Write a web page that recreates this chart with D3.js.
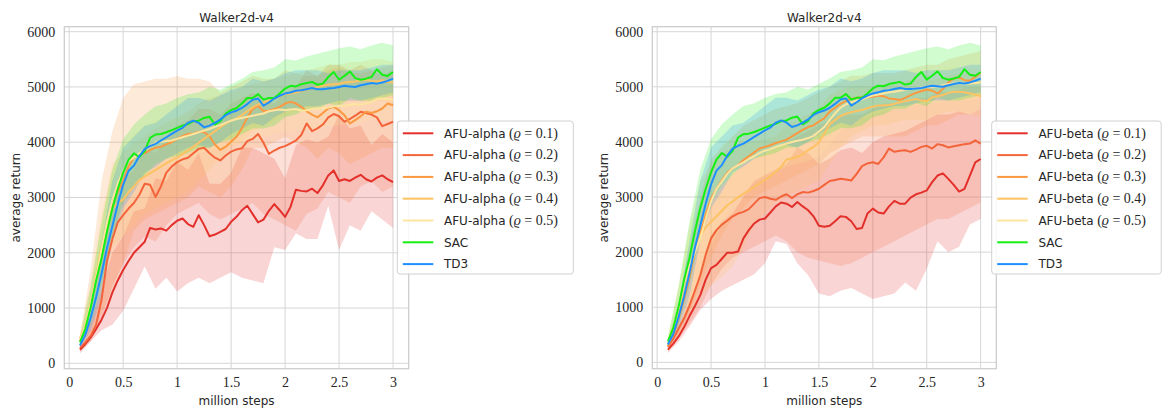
<!DOCTYPE html>
<html><head><meta charset="utf-8">
<script src="https://cdn.jsdelivr.net/npm/d3@7"></script>
<style>body{margin:0;background:#fff} svg{display:block}</style>
</head><body><svg id="c" width="1162" height="414"></svg>
<script>
// ---------------- data ----------------
const steps = [0.1,0.15,0.2,0.25,0.3,0.35,0.4,0.45,0.5,
 0.55,0.6,0.65,0.7,0.75,0.8,0.85,0.9,0.95,1.0,
 1.05,1.1,1.15,1.2,1.25,1.3,1.35,1.4,1.45,1.5,
 1.55,1.6,1.65,1.7,1.75,1.8,1.85,1.9,1.95,2.0,
 2.05,2.1,2.15,2.2,2.25,2.3,2.35,2.4,2.45,2.5,
 2.55,2.6,2.65,2.7,2.75,2.8,2.85,2.9,2.95,3.0];
const bandSteps = [0.1,0.2,0.3,0.4,0.5,0.6,0.7,0.8,0.9,1.0,1.1,1.2,1.3,1.4,1.5,1.6,1.7,1.8,1.9,2.0,2.1,2.2,2.3,2.4,2.5,2.6,2.7,2.8,2.9,3.0];
const xTicks = [0,0.5,1,1.5,2,2.5,3];
const xTickLabels = ["0","0.5","1","1.5","2","2.5","3"];
const yTicks = [0,1000,2000,3000,4000,5000,6000];
const yTickLabels = ["0","1000","2000","3000","4000","5000","6000"];
const rhoLabels = ["0.1","0.2","0.3","0.4","0.5"];

// shared baselines
const sac = [380,630,1020,1500,1900,2380,2800,3150,3450,
 3680,3800,3730,3840,4080,4140,4150,4180,4220,4260,
 4300,4330,4380,4390,4440,4460,4320,4380,4520,4580,
 4620,4700,4800,4800,4870,4770,4800,4800,4880,4970,
 5020,5010,5050,5070,5090,5040,5060,5180,5270,5130,
 5200,5280,5160,5130,5150,5180,5320,5220,5200,5270];
const td3 = [325,520,830,1200,1620,2080,2480,2880,3230,
 3480,3580,3750,3880,3930,3970,4030,4090,4150,4210,
 4260,4350,4390,4350,4270,4300,4350,4410,4490,4540,
 4570,4620,4690,4770,4790,4660,4720,4790,4840,4880,
 4900,4930,4940,4960,4980,4960,4960,4970,4980,5000,
 5020,5010,5000,5030,5050,5070,5060,5080,5110,5150];
const sacLo = [300,700,1400,2300,2900,3200,3400,3600,3700,3750,3800,3900,3900,4000,4050,4150,4250,4250,4300,4450,4500,4600,4600,4700,4650,4800,4750,4750,4800,4850];
const sacHi = [460,1400,2550,3500,4050,4320,4500,4650,4700,4800,4870,4900,5000,4950,5050,5150,5270,5300,5350,5500,5480,5550,5600,5650,5700,5730,5680,5750,5800,5750];
const td3Lo = [260,600,1200,2200,2800,3100,3450,3550,3700,3800,3900,3950,3900,4000,4150,4250,4350,4300,4450,4550,4600,4650,4650,4700,4750,4750,4750,4800,4850,4900];
const td3Hi = [380,1100,2200,3300,3900,4100,4300,4350,4500,4650,4800,4800,4750,4850,4950,5000,5150,5100,5150,5250,5300,5300,5300,5250,5300,5300,5300,5350,5400,5400];

// AFU-alpha (left panel)
const alpha01 = [245,350,470,620,790,1000,1280,1500,1690,
 1850,2000,2100,2200,2450,2420,2440,2400,2500,2580,
 2620,2520,2470,2680,2500,2300,2330,2380,2430,2560,
 2650,2770,2850,2700,2550,2600,2760,2880,2770,2650,
 2830,3140,3120,3110,3160,3080,3220,3400,3490,3300,
 3330,3300,3360,3410,3330,3290,3360,3400,3330,3280];
const alpha02 = [280,380,500,700,1150,1850,2250,2550,2680,
 2800,2900,3050,3250,3230,3010,3200,3450,3560,3640,
 3690,3720,3800,3880,3900,3800,3720,3670,3760,3830,
 3870,3890,4020,4060,4150,3990,3790,3850,3900,3930,
 3980,4030,4130,4340,4200,4250,4320,4450,4510,4470,
 4370,4420,4480,4550,4530,4500,4450,4290,4330,4370];
const alpha03 = [400,650,1050,1550,2050,2500,2850,3100,3300,
 3560,3720,3790,3800,3860,3900,3920,3960,4000,4060,
 4110,4150,4160,4190,4180,4110,3960,3860,3920,4010,
 4100,4250,4450,4600,4660,4560,4570,4600,4640,4700,
 4730,4700,4640,4560,4500,4450,4530,4610,4640,4580,
 4490,4340,4400,4470,4550,4530,4560,4610,4700,4670];
const alpha04 = [450,700,1100,1600,2100,2500,2800,2900,2960,
 3100,3200,3320,3380,3440,3500,3560,3620,3670,3720,
 3790,3850,3920,3990,4060,4130,4200,4270,4340,4390,
 4430,4490,4560,4630,4680,4720,4750,4790,4830,4870,
 4880,4900,4930,4950,4980,5000,5020,5040,5050,5060,
 5080,5090,5100,5120,5130,5110,5100,5120,5090,5080];
const alpha05 = [420,680,1080,1550,2050,2550,2950,3250,3480,
 3660,3720,3800,3870,3920,3990,4010,4020,4030,4060,
 4090,4120,4150,4180,4210,4240,4280,4310,4350,4390,
 4420,4440,4460,4480,4500,4520,4560,4580,4590,4580,
 4590,4600,4570,4580,4600,4610,4620,4630,4650,4660,
 4660,4680,4690,4680,4700,4730,4780,4790,4780,4770];
const alpha01Lo = [180,400,600,700,950,1350,1750,1350,1550,1300,1450,1550,1450,1550,1650,1550,1500,1450,2100,2050,2350,2250,2250,2850,2050,2500,2400,2750,2600,2450];
const alpha01Hi = [320,750,1350,2000,2300,2750,2800,3350,3300,3650,3500,3800,3250,3250,3450,3900,3900,3800,3700,3350,3950,4050,4000,4100,4500,4250,4300,3950,4150,4000];
const alpha02Lo = [220,400,800,1400,1800,2100,2300,2200,2500,2700,2800,2900,2700,2600,2700,2800,2900,2700,2600,2500,2400,2700,2800,3100,3000,2900,3200,3300,3100,3200];
const alpha02Hi = [350,800,1900,2900,3300,3500,3900,3800,4100,4300,4400,4600,4600,4500,4700,4800,4900,4800,4700,4900,5000,5300,5200,5400,5400,5300,5400,5300,5200,5300];
const alpha03Lo = [250,550,900,1300,1800,2400,2600,2700,2800,2900,3000,3200,3100,3000,3200,3500,3900,3900,4000,4100,4000,3900,3700,3900,3800,3600,3700,3800,3900,3900];
const alpha03Hi = [500,1700,3300,4200,4800,5050,5100,5150,5150,5200,5150,5150,5100,4900,5000,5100,5200,5150,5150,5300,5250,5200,5200,5300,5350,5250,5250,5300,5350,5400];
const alpha04Lo = [350,800,1500,2100,2300,2500,2700,2800,2900,3000,3100,3300,3500,3700,3900,4000,4200,4300,4400,4500,4550,4600,4650,4700,4700,4750,4750,4750,4750,4700];
const alpha04Hi = [550,1450,2700,3600,3800,4000,4100,4250,4350,4450,4550,4700,4800,4850,4900,5000,5050,5100,5150,5200,5250,5300,5350,5400,5400,5450,5450,5500,5500,5450];
const alpha05Lo = [350,850,1700,2500,3000,3200,3400,3500,3600,3650,3700,3800,3850,3900,3950,4000,4050,4100,4150,4200,4200,4250,4250,4300,4300,4350,4350,4400,4400,4400];
const alpha05Hi = [500,1350,2450,3400,3900,4150,4300,4400,4450,4450,4500,4550,4600,4700,4800,4850,4900,4950,5000,5000,5000,5000,5000,5000,5050,5050,5050,5100,5150,5150];

// AFU-beta (right panel)
const beta01 = [230,340,470,640,840,1020,1220,1500,1710,
 1770,1880,1990,1990,2010,2250,2400,2520,2590,2610,
 2720,2830,2900,2880,2820,2910,2830,2760,2650,2480,
 2460,2480,2560,2650,2640,2560,2420,2440,2700,2790,
 2720,2700,2830,2930,2880,2880,2990,3050,3080,3120,
 3270,3390,3430,3330,3220,3100,3150,3390,3630,3690];
const beta02 = [280,430,620,800,1030,1300,1580,1950,2250,
 2400,2500,2570,2650,2700,2730,2780,2880,2980,3000,
 2970,2950,3010,3050,2980,3050,3090,3080,3110,3150,
 3220,3290,3310,3330,3320,3300,3420,3560,3610,3630,
 3600,3720,3880,3820,3840,3850,3820,3860,3910,3930,
 3880,3960,3940,3900,3920,3940,3960,3970,4030,3970];
const beta03 = [300,500,800,1150,1550,2000,2350,2680,2970,
 3150,3300,3440,3520,3580,3670,3740,3810,3880,3910,
 3940,3980,4010,4040,4100,4160,4220,4270,4300,4370,
 4430,4550,4620,4690,4740,4780,4800,4810,4810,4820,
 4840,4830,4790,4780,4760,4800,4850,4890,4920,4950,
 4930,4880,4960,5080,5150,5170,5120,5110,5180,5260];
const beta04 = [330,580,900,1250,1650,2000,2300,2450,2550,
 2650,2750,2850,2920,3000,3060,3120,3180,3250,3310,
 3380,3460,3550,3680,3700,3730,3780,3850,3910,3990,
 4150,4320,4400,4470,4510,4540,4560,4580,4610,4640,
 4660,4660,4670,4690,4720,4740,4760,4780,4750,4740,
 4810,4830,4850,4890,4910,4910,4900,4880,4860,4830];
const beta05 = [380,650,1000,1450,1750,2000,2250,2600,2920,
 3150,3280,3420,3520,3580,3630,3690,3740,3800,3840,
 3870,3910,3940,3970,4000,4020,4040,4070,4110,4190,
 4270,4400,4520,4620,4680,4720,4750,4770,4810,4840,
 4860,4880,4900,4910,4930,4950,4960,4980,4990,5000,
 5000,5010,5030,5050,5060,5060,5060,5060,5070,5080];
const beta01Lo = [170,380,650,950,1150,1300,1400,1500,1600,1800,2200,2150,1800,1580,1250,1200,1300,1350,1250,1150,1200,1250,1450,1300,1700,2200,2000,2100,2500,2600];
const beta01Hi = [300,600,1100,1600,2300,2550,2700,3000,3300,3400,3500,3600,3900,3800,3600,3700,3850,3900,3800,4000,4100,4150,4200,4300,4400,4500,4500,4550,4500,4600];
const beta02Lo = [200,450,700,1000,1400,1700,1900,2000,2100,2200,2300,2200,2000,1900,1850,1800,1750,1800,1900,2000,2100,2200,2300,2400,2500,2600,2600,2700,2800,2900];
const beta02Hi = [380,800,1500,2300,2900,3200,3400,3600,3700,3800,3900,4000,4100,4200,4300,4400,4500,4500,4500,4600,4700,4700,4750,4800,4800,4900,4900,4950,5000,5000];
const beta03Lo = [220,500,900,1400,1900,2300,2600,2800,3000,3100,3200,3300,3400,3500,3600,3800,3900,4000,4100,4100,4100,4100,4100,4200,4300,4300,4400,4500,4500,4600];
const beta03Hi = [400,1100,2100,3000,3700,3900,4100,4300,4400,4500,4600,4650,4700,4800,4900,5000,5100,5200,5200,5250,5250,5250,5300,5350,5400,5400,5500,5550,5600,5650];
const beta04Lo = [250,550,900,1200,1400,1550,1750,2100,2500,2700,2900,3000,3100,3200,3300,3600,3900,4100,4200,4300,4300,4350,4400,4400,4400,4500,4550,4550,4500,4450];
const beta04Hi = [450,1400,2500,3300,3600,3800,3900,4000,4000,4050,4100,4300,4400,4500,4600,4850,4950,5000,5000,5000,5050,5050,5100,5150,5100,5150,5200,5250,5250,5200];
const beta05Lo = [300,700,1100,1600,2100,2500,2900,3100,3250,3350,3450,3550,3600,3650,3750,3950,4200,4350,4450,4500,4550,4600,4600,4650,4700,4700,4750,4750,4750,4800];
const beta05Hi = [480,1350,2400,2900,3600,3950,4100,4200,4250,4300,4350,4400,4450,4500,4650,4850,5000,5050,5100,5150,5200,5200,5250,5300,5300,5300,5350,5350,5350,5350];

// ---------------- drawing ----------------
const svg = d3.select('#c');
const SANS = "'DejaVu Sans', sans-serif";
const SERIF = "'Liberation Serif', 'DejaVu Serif', serif";
const TXT = '#262626';
const palette = ['#e3302b','#f4643a','#fb9840','#fdc262','#fde5a0','#14f014','#1e8fff'];

function drawPanel(p) {
  const x = d3.scaleLinear().domain([-0.045, 3.145]).range([p.x0, p.x1]);
  const y = d3.scaleLinear().domain(p.yDomain).range([p.y1, p.y0]);
  const g = svg.append('g');
  const clipId = 'clip' + p.id;
  g.append('clipPath').attr('id', clipId).append('rect')
    .attr('x', p.x0).attr('y', p.y0).attr('width', p.x1 - p.x0).attr('height', p.y1 - p.y0);

  // grid
  g.append('g').selectAll('line').data(xTicks).join('line')
    .attr('x1', d => x(d)).attr('x2', d => x(d)).attr('y1', p.y0).attr('y2', p.y1)
    .attr('stroke', '#d6d6d6').attr('stroke-width', 1);
  g.append('g').selectAll('line').data(yTicks).join('line')
    .attr('y1', d => y(d)).attr('y2', d => y(d)).attr('x1', p.x0).attr('x2', p.x1)
    .attr('stroke', '#d6d6d6').attr('stroke-width', 1);

  const plot = g.append('g').attr('clip-path', `url(#${clipId})`);
  const area = d3.area().x((d, i) => x(bandSteps[i])).y0(d => y(d[0])).y1(d => y(d[1]));
  const line = d3.line().x((d, i) => x(steps[i])).y(d => y(d));

  p.series.forEach((s, k) => {
    const bd = s.lo.map((v, i) => [v, s.hi[i]]);
    plot.append('path').datum(bd).attr('d', area)
      .attr('fill', palette[k]).attr('fill-opacity', 0.2).attr('stroke', 'none');
  });
  p.series.forEach((s, k) => {
    plot.append('path').datum(s.mean).attr('d', line)
      .attr('fill', 'none').attr('stroke', palette[k]).attr('stroke-width', 2)
      .attr('stroke-linejoin', 'round');
  });

  // frame
  g.append('rect').attr('x', p.x0).attr('y', p.y0).attr('width', p.x1 - p.x0).attr('height', p.y1 - p.y0)
    .attr('fill', 'none').attr('stroke', '#cccccc').attr('stroke-width', 1.25);

  // axes
  const xa = g.append('g').attr('transform', `translate(0,${p.y1})`)
    .call(d3.axisBottom(x).tickValues(xTicks).tickSize(0).tickPadding(8)
      .tickFormat((d, i) => xTickLabels[i]));
  const ya = g.append('g').attr('transform', `translate(${p.x0},0)`)
    .call(d3.axisLeft(y).tickValues(yTicks).tickSize(0).tickPadding(9)
      .tickFormat((d, i) => yTickLabels[i]));
  [xa, ya].forEach(a => {
    a.select('.domain').remove();
    a.selectAll('text').attr('font-family', SERIF).attr('font-size', 14).attr('fill', TXT);
  });

  // title & labels
  const cx = (p.x0 + p.x1) / 2;
  g.append('text').attr('x', cx).attr('y', 21.5).attr('text-anchor', 'middle')
    .attr('font-family', SANS).attr('font-size', 12).attr('fill', TXT).text('Walker2d-v4');
  g.append('text').attr('x', cx).attr('y', 404.5).attr('text-anchor', 'middle')
    .attr('font-family', SANS).attr('font-size', 12).attr('fill', TXT).text('million steps');
  g.append('text').attr('transform', `translate(${p.ylabX},${(p.y0 + p.y1) / 2}) rotate(-90)`)
    .attr('text-anchor', 'middle')
    .attr('font-family', SANS).attr('font-size', 12).attr('fill', TXT).text('average return');

  // legend
  const lg = g.append('g');
  lg.append('rect').attr('x', p.legX).attr('y', 121).attr('width', p.legW).attr('height', 153)
    .attr('rx', 3).attr('fill', '#ffffff').attr('fill-opacity', 0.85)
    .attr('stroke', '#d0d0d0').attr('stroke-width', 1);
  p.series.forEach((s, k) => {
    const ry = 133.3 + k * 21.8;
    lg.append('line').attr('x1', p.legX + 5.5).attr('x2', p.legX + 36)
      .attr('y1', ry).attr('y2', ry).attr('stroke', palette[k]).attr('stroke-width', 2);
    const t = lg.append('text').attr('x', p.legX + 46.7).attr('y', ry + 4.3)
      .attr('font-family', SANS).attr('font-size', 12).attr('fill', TXT);
    t.append('tspan').text(s.name);
    if (s.rho) {
      t.append('tspan').attr('font-family', SERIF).attr('font-size', 14).text(' (');
      t.append('tspan').attr('font-family', SERIF).attr('font-size', 14).attr('font-style', 'italic').text('ϱ');
      t.append('tspan').attr('font-family', SERIF).attr('font-size', 14).text(' = ' + s.rho + ')');
    }
  });
}

drawPanel({
  id: 'L', x0: 64.3, x1: 408.7, y0: 26.7, y1: 368.7, yDomain: [-97, 6090], ylabX: 19.5,
  legX: 397.3, legW: 176,
  series: [
    {name: 'AFU-alpha', rho: rhoLabels[0], mean: alpha01, lo: alpha01Lo, hi: alpha01Hi},
    {name: 'AFU-alpha', rho: rhoLabels[1], mean: alpha02, lo: alpha02Lo, hi: alpha02Hi},
    {name: 'AFU-alpha', rho: rhoLabels[2], mean: alpha03, lo: alpha03Lo, hi: alpha03Hi},
    {name: 'AFU-alpha', rho: rhoLabels[3], mean: alpha04, lo: alpha04Lo, hi: alpha04Hi},
    {name: 'AFU-alpha', rho: rhoLabels[4], mean: alpha05, lo: alpha05Lo, hi: alpha05Hi},
    {name: 'SAC', mean: sac, lo: sacLo, hi: sacHi},
    {name: 'TD3', mean: td3, lo: td3Lo, hi: td3Hi}
  ]
});
drawPanel({
  id: 'R', x0: 652.3, x1: 996.3, y0: 26.7, y1: 368.7, yDomain: [-115, 6091], ylabX: 607.5,
  legX: 991.7, legW: 169.5,
  series: [
    {name: 'AFU-beta', rho: rhoLabels[0], mean: beta01, lo: beta01Lo, hi: beta01Hi},
    {name: 'AFU-beta', rho: rhoLabels[1], mean: beta02, lo: beta02Lo, hi: beta02Hi},
    {name: 'AFU-beta', rho: rhoLabels[2], mean: beta03, lo: beta03Lo, hi: beta03Hi},
    {name: 'AFU-beta', rho: rhoLabels[3], mean: beta04, lo: beta04Lo, hi: beta04Hi},
    {name: 'AFU-beta', rho: rhoLabels[4], mean: beta05, lo: beta05Lo, hi: beta05Hi},
    {name: 'SAC', mean: sac, lo: sacLo, hi: sacHi},
    {name: 'TD3', mean: td3, lo: td3Lo, hi: td3Hi}
  ]
});
</script></body></html>
